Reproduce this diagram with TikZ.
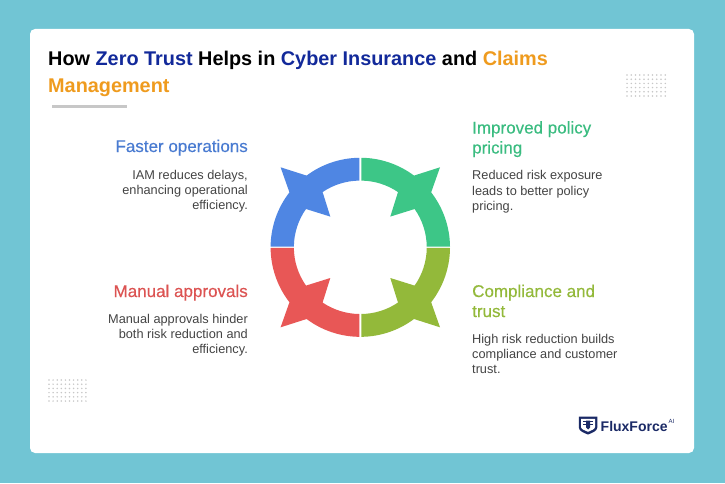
\documentclass[tikz,border=0pt]{standalone}
\usepackage{fontspec}
\setmainfont{Liberation Sans}
\newfontfamily\headfont[FakeBold=0.35]{Liberation Sans}
\definecolor{bgteal}{HTML}{71C5D4}
\definecolor{navy}{HTML}{12299A}
\definecolor{logonavy}{HTML}{1B2A66}
\definecolor{amber}{HTML}{EF9B1E}
\definecolor{ringblue}{HTML}{4F86E3}
\definecolor{ringgreen}{HTML}{3DC687}
\definecolor{ringolive}{HTML}{93B93A}
\definecolor{ringred}{HTML}{E85756}
\definecolor{bodygrey}{HTML}{444444}
\tikzset{
  heading/.style={font=\headfont\fontsize{17}{20}\selectfont, align=left, inner sep=0pt},
  bodyleft/.style={font=\fontsize{12.75}{15.2}\selectfont, text=bodygrey, align=right, inner sep=0pt, anchor=north east},
  bodyright/.style={font=\fontsize{12.75}{15.2}\selectfont, text=bodygrey, align=left, inner sep=0pt, anchor=north west},
}
\begin{document}
\begin{tikzpicture}[x=1pt,y=1pt]
\useasboundingbox (0,0) rectangle (725,483);
\fill[bgteal] (0,0) rectangle (725,483);
\fill[white, rounded corners=5pt] (30,30) rectangle (694,454);

% title
\node[anchor=north west, inner sep=0pt, align=left, font=\fontsize{19.85}{27}\bfseries\selectfont] (title) at (48,432.5)
  {How \textcolor{navy}{Zero Trust} Helps in \textcolor{navy}{Cyber Insurance} and \textcolor{amber}{Claims}\\
   \textcolor{amber}{Management}};
\draw[line width=2.5pt, black!22] (52,376.3) -- (127,376.3);

% dots
\foreach \i in {0,...,9} \foreach \j in {0,...,5} {
  \fill[black!22] (627+4.25*\i,408-4.2*\j) circle (0.85);
  \fill[black!22] (49+4.1*\i,103-4.2*\j) circle (0.85);
}

% ring
\foreach \sx/\sy/\col in {1/1/ringblue, -1/1/ringgreen, 1/-1/ringred, -1/-1/ringolive} {
\begin{scope}[shift={(360.3,235.7)}, xscale=\sx, yscale=\sy]
\fill[\col] (-89.7,0.7) arc[start angle=179.5, end angle=142.2, radius=89.8]
  -- (-79.7,80) -- (-53.7,71.7)
  arc[start angle=126.8, end angle=90.6, radius=89.5]
  -- (-1,66.7)
  arc[start angle=90.6, end angle=124.1, radius=66.7]
  -- (-30,30.7) -- (-54.3,38.3)
  arc[start angle=144.8, end angle=179.5, radius=66.4]
  -- cycle;
\end{scope}
}

% left column
\node[heading, text=ringblue!92!black, anchor=base east] (faster) at (248,331) {Faster operations};
\node[bodyleft] (fastertext) at (248,313) {IAM reduces delays,\\enhancing operational\\efficiency.};
\node[heading, text=ringred!95!black, anchor=base east] (manual) at (248,186) {Manual approvals};
\node[bodyleft] (manualtext) at (248,169) {Manual approvals hinder\\both risk reduction and\\efficiency.};

% right column
\node[heading, text=ringgreen!95!black, anchor=north west] (improved) at (472,362) {Improved policy\\pricing};
\node[bodyright] (improvedtext) at (472,312.5) {Reduced risk exposure\\leads to better policy\\pricing.};
\node[heading, text=ringolive, anchor=north west] (compliance) at (472,198.5) {Compliance and\\trust};
\node[bodyright] (compliancetext) at (472,149) {High risk reduction builds\\compliance and customer\\trust.};

% logo
\fill[logonavy] (578.8,66.3) -- (597.3,66.3) -- (597.3,55.5) .. controls (597.3,52) and (592,50) .. (588,48.5)
  .. controls (584,50) and (578.8,52) .. (578.8,55.5) -- cycle;
\fill[white] (581,64.2) -- (595,64.2) -- (595,56) .. controls (595,54) and (591,52.3) .. (588,51.2)
  .. controls (585,52.3) and (581,54) .. (581,56) -- cycle;
\fill[logonavy] (583,62.5) rectangle (593,60.8);
\fill[logonavy] (583,59.2) rectangle (593,57.6);
\fill[logonavy] (586,62.5) -- (590,62.5) -- (590,55.5) -- (588,53.5) -- (586,55.5) -- cycle;
\node[anchor=base west, inner sep=0pt, text=logonavy, font=\fontsize{14}{16}\bfseries\selectfont] (brand) at (600.5,51.5) {FluxForce};
\node[anchor=base west, inner sep=0pt, text=logonavy, font=\fontsize{6}{7}\selectfont] (brandai) at (668.5,59.5) {AI};
\end{tikzpicture}
\end{document}
